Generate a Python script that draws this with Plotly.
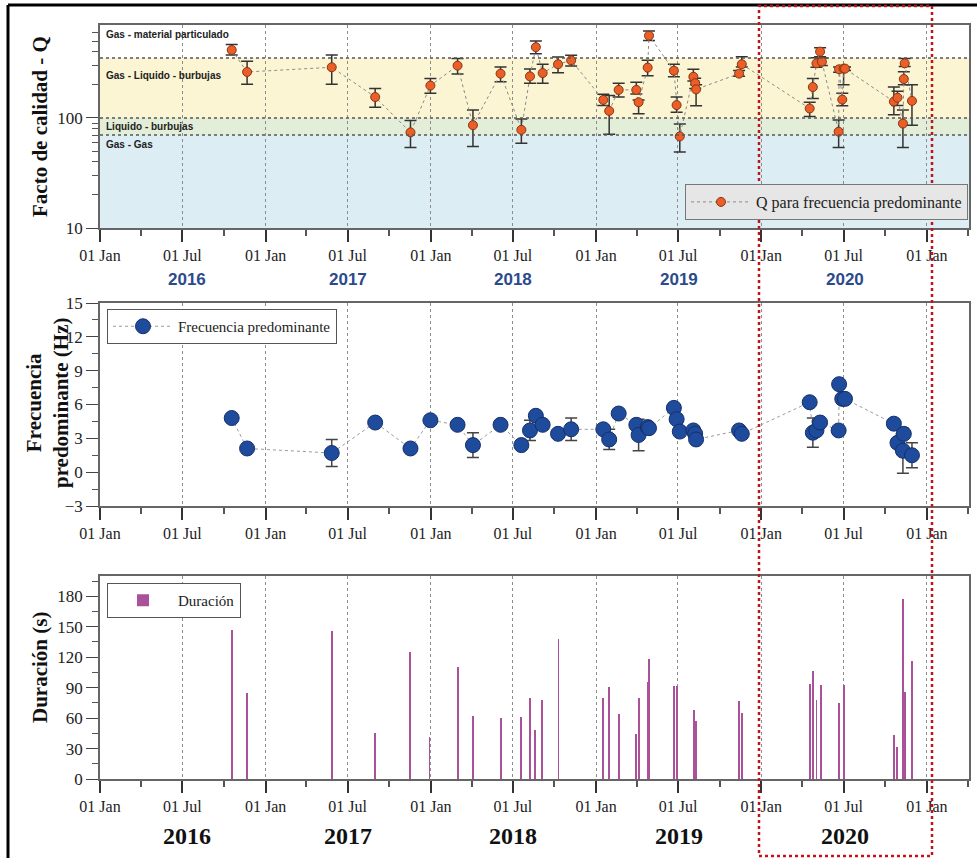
import numpy as np
import pandas as pd
import plotly.graph_objects as go

# ---------------- data ----------------
q_dates = ["2016-10-18", "2016-11-21", "2017-05-27", "2017-08-31", "2017-11-17", "2017-12-31",
           "2018-03-01", "2018-04-04", "2018-06-04", "2018-07-20", "2018-08-08", "2018-08-21",
           "2018-09-05", "2018-10-09", "2018-11-07", "2019-01-17", "2019-01-30", "2019-02-20",
           "2019-03-31", "2019-04-05", "2019-04-25", "2019-04-28", "2019-06-22", "2019-06-28",
           "2019-07-05", "2019-08-04", "2019-08-08", "2019-08-10", "2019-11-13", "2019-11-19",
           "2020-04-17", "2020-04-24", "2020-05-02", "2020-05-10", "2020-05-14", "2020-06-20",
           "2020-06-21", "2020-06-28", "2020-07-01", "2020-07-04", "2020-10-20", "2020-10-28",
           "2020-11-09", "2020-11-11", "2020-11-13", "2020-11-29"]
q_values = [415, 262, 289, 155, 74, 197, 299, 86, 253, 78, 239, 440, 256, 308, 334, 146, 116, 180,
            180, 139, 287, 560, 269, 131, 68, 237, 207, 182, 253, 308, 122, 191, 314, 401, 325, 75,
            277, 147, 281, 281, 141, 153, 89, 226, 314, 143]
q_upper = [466, 327, 374, 185, 95, 229, 348, 118, 291, 98, 279, 502, 308, 358, 372, 164, 160, 207,
           211, 146, 335, 617, 308, 155, 88, 277, 230, 200, 270, 361, 139, 229, 353, 435, 350, 96,
           290, 168, 290, 290, 191, 175, 118, 263, 348, 200]
q_lower = [373, 203, 203, 125, 54, 168, 251, 55, 214, 59, 207, 384, 207, 258, 297, 130, 71, 155,
           165, 109, 242, 505, 237, 113, 49, 217, 185, 129, 240, 290, 103, 150, 289, 360, 300, 54,
           260, 129, 200, 270, 107, 130, 54, 200, 293, 86]

f_dates = ["2016-10-18", "2016-11-21", "2017-05-27", "2017-08-31", "2017-11-17", "2017-12-31",
           "2018-03-01", "2018-04-04", "2018-06-04", "2018-07-20", "2018-08-08", "2018-08-21",
           "2018-09-05", "2018-10-09", "2018-11-07", "2019-01-17", "2019-01-30", "2019-02-20",
           "2019-03-31", "2019-04-05", "2019-04-25", "2019-04-28", "2019-06-22", "2019-06-28",
           "2019-07-05", "2019-08-04", "2019-08-08", "2019-08-10", "2019-11-13", "2019-11-19",
           "2020-04-17", "2020-04-24", "2020-05-02", "2020-05-10", "2020-06-20", "2020-06-21",
           "2020-06-28", "2020-07-04", "2020-10-20", "2020-10-28", "2020-11-09", "2020-11-11",
           "2020-11-29"]
f_values = [4.8, 2.1, 1.7, 4.4, 2.1, 4.6, 4.2, 2.4, 4.2, 2.4, 3.7, 5.0, 4.2, 3.4, 3.8, 3.8, 2.9, 5.2,
            4.2, 3.3, 4.0, 3.9, 5.7, 4.7, 3.6, 3.7, 3.4, 2.9, 3.7, 3.4, 6.2, 3.5, 3.7, 4.4, 3.7, 7.8,
            6.5, 6.5, 4.3, 2.6, 1.9, 3.4, 1.5]
f_err = [0.0, 0.0, 1.2, 0.0, 0.0, 0.0, 0.0, 1.1, 0.0, 0.0, 0.9, 0.0, 0.0, 0.0, 1.0, 0.0, 0.9, 0.0,
         0.0, 1.4, 0.0, 0.0, 0.0, 0.0, 0.0, 0.0, 0.0, 0.0, 0.0, 0.0, 0.0, 1.3, 0.0, 0.0, 0.0, 0.0,
         0.0, 0.0, 0.0, 0.0, 2.0, 0.0, 1.1]

d_dates = ["2016-10-18", "2016-11-20", "2017-05-27", "2017-08-30", "2017-11-15", "2017-12-29",
           "2018-03-01", "2018-04-04", "2018-06-04", "2018-07-20", "2018-08-08", "2018-08-20",
           "2018-09-04", "2018-10-10", "2019-01-17", "2019-01-29", "2019-02-20", "2019-03-31",
           "2019-04-05", "2019-04-25", "2019-04-28", "2019-06-23", "2019-06-29", "2019-08-05",
           "2019-08-09", "2019-11-13", "2019-11-19", "2020-04-17", "2020-04-24", "2020-05-02",
           "2020-05-12", "2020-06-20", "2020-07-01", "2020-10-20", "2020-10-27", "2020-11-09",
           "2020-11-10", "2020-11-13", "2020-11-29"]
d_values = [147, 85, 146, 45, 125, 41, 110, 62, 60, 61, 80, 48, 78, 138, 80, 91, 64, 44, 80, 96,
            118, 92, 92, 68, 57, 77, 65, 94, 106, 78, 93, 75, 93, 43, 32, 56, 177, 86, 116]

tick_dates = ["2016-01-01", "2016-07-01", "2017-01-01", "2017-07-01", "2018-01-01", "2018-07-01",
              "2019-01-01", "2019-07-01", "2020-01-01", "2020-07-01", "2021-01-01"]
tick_text = ["01 Jan", "01 Jul"] * 5 + ["01 Jan"]
year_labels = ["2016", "2017", "2018", "2019", "2020"]
year_pos = ["2016-07-12", "2017-07-01", "2018-07-01", "2019-07-04", "2020-07-04"]

bands = [(10, 70, "#dcedf3"), (70, 100, "#e2eed8"), (100, 350, "#fbf5d3")]
band_labels = [("Gas - material particulado", 570), ("Gas - Liquido - burbujas", 245),
               ("Liquido - burbujas", 84), ("Gas - Gas", 58)]

# ---------------- figure ----------------
W, H = 977, 858
def px(x):
    return x / W
def py(y):
    return 1 - y / H

xdom = [px(100), px(969)]
dom_top = [py(228), py(25)]
dom_mid = [py(506), py(303)]
dom_bot = [py(779), py(576)]

serif = "Liberation Serif"
sans = "Liberation Sans"

qd = pd.to_datetime(q_dates)
qv = np.array(q_values, float)
fig = go.Figure()

fig.add_trace(go.Scatter(
    x=qd, y=qv, mode="lines+markers", name="Q para frecuencia predominante",
    line=dict(color="#8a8a8a", width=1, dash="dot"),
    marker=dict(size=9, color="#ea5f28", line=dict(color="#8a3310", width=1)),
    error_y=dict(type="data", symmetric=False, array=np.array(q_upper) - qv,
                 arrayminus=qv - np.array(q_lower), color="#333333", thickness=1.5, width=6),
    xaxis="x", yaxis="y", legend="legend"))

fig.add_trace(go.Scatter(
    x=pd.to_datetime(f_dates), y=f_values, mode="lines+markers", name="Frecuencia predominante",
    line=dict(color="#9a9a9a", width=1, dash="dot"),
    marker=dict(size=15, color="#1f4b9c", line=dict(color="#14306a", width=1)),
    error_y=dict(type="data", array=f_err, color="#444444", thickness=1.5, width=6),
    xaxis="x2", yaxis="y2", legend="legend2"))

fig.add_trace(go.Bar(
    x=pd.to_datetime(d_dates), y=d_values, name="Duración",
    width=2.0 * 86400000, marker=dict(color="#a9529a", line=dict(width=0)),
    xaxis="x3", yaxis="y3", legend="legend3"))

xrange = ["2016-01-01", "2021-04-04"]
xcommon = dict(range=xrange, type="date", tickmode="array", tickvals=tick_dates, ticktext=tick_text,
               ticks="outside", ticklen=12, tickcolor="#333", tickwidth=1.5,
               tickfont=dict(family=serif, size=16, color="#222"),
               showgrid=True, gridcolor="#8c8c8c", griddash="dot", gridwidth=1,
               showline=True, linecolor="#666", linewidth=1.5, mirror=True,
               minor=dict(ticks="outside", ticklen=6, dtick="M3", tick0="2016-01-01",
                          tickcolor="#555", showgrid=False),
               zeroline=False, domain=xdom, automargin=False)

ycommon = dict(ticks="outside", ticklen=12, tickcolor="#444", tickwidth=1.2,
               tickfont=dict(family=serif, size=17, color="#222"),
               showgrid=False, zeroline=False, showline=True, linecolor="#666", linewidth=1.5,
               mirror=True, automargin=False)

fig.update_layout(
    width=W, height=H, margin=dict(l=0, r=0, t=0, b=0, autoexpand=False),
    paper_bgcolor="white", plot_bgcolor="white", showlegend=True, bargap=0,
    xaxis=dict(xcommon, anchor="y"),
    xaxis2=dict(xcommon, anchor="y2"),
    xaxis3=dict(xcommon, anchor="y3"),
    yaxis=dict(ycommon, type="log", range=[1, np.log10(700)], domain=dom_top, anchor="x",
               tickvals=[10, 100, 1000], ticktext=["10", "100", "1000"],
               minor=dict(ticks="outside", ticklen=6, tickcolor="#555",
                          tickvals=[20, 30, 40, 50, 60, 70, 80, 90, 200, 300, 400, 500, 600])),
    yaxis2=dict(ycommon, range=[-3, 15], dtick=3, tick0=0, domain=dom_mid, anchor="x2",
                minor=dict(ticks="outside", ticklen=6, dtick=1.5, tick0=0, tickcolor="#555")),
    yaxis3=dict(ycommon, range=[0, 200], dtick=30, tick0=0, domain=dom_bot, anchor="x3",
                minor=dict(ticks="outside", ticklen=6, dtick=15, tick0=0, tickcolor="#555")),
    legend=dict(x=px(968), y=py(220), xanchor="right", yanchor="bottom", bgcolor="#e6e6e6",
                bordercolor="#777", borderwidth=1, itemwidth=60,
                font=dict(family=serif, size=16, color="#222")),
    legend2=dict(x=px(107), y=py(309), xanchor="left", yanchor="top", bgcolor="white",
                 bordercolor="#555", borderwidth=1, itemwidth=60,
                 font=dict(family=serif, size=15, color="#222")),
    legend3=dict(x=px(107), y=py(583), xanchor="left", yanchor="top", bgcolor="white",
                 bordercolor="#555", borderwidth=1, itemwidth=60,
                 font=dict(family=serif, size=15, color="#222")),
)

shapes = []
for lo, hi, col in bands:
    shapes.append(dict(type="rect", xref="x domain", yref="y", x0=0, x1=1, y0=lo, y1=hi,
                       fillcolor=col, line=dict(width=0), layer="below"))
for v in [70, 100, 350]:
    shapes.append(dict(type="line", xref="x domain", yref="y", x0=0, x1=1, y0=v, y1=v,
                       line=dict(color="#555", width=1.5, dash="dot")))
# outer frame lines and highlight box
shapes.append(dict(type="line", xref="paper", yref="paper", x0=px(8), x1=1, y0=py(5), y1=py(5),
                   line=dict(color="black", width=3)))
shapes.append(dict(type="line", xref="paper", yref="paper", x0=px(8), x1=px(8), y0=0, y1=py(5),
                   line=dict(color="black", width=3)))
shapes.append(dict(type="rect", xref="paper", yref="paper", x0=px(759), x1=px(932), y0=py(856),
                   y1=py(6), line=dict(color="#c0141c", width=2.5, dash="dot")))
fig.update_layout(shapes=shapes)

ann = []
for txt, v in band_labels:
    ann.append(dict(text="<b>" + txt + "</b>", xref="x domain", yref="y", x=0.005, y=np.log10(v),
                    xanchor="left", yanchor="middle", showarrow=False,
                    font=dict(family=sans, size=10, color="#222")))
for yl, yp in zip(year_labels, year_pos):
    ann.append(dict(text="<b>" + yl + "</b>", xref="x", yref="paper", x=yp, y=py(279),
                    xanchor="center", yanchor="middle",
                    showarrow=False, font=dict(family=sans, size=17, color="#2b4a8c")))
    ann.append(dict(text="<b>" + yl + "</b>", xref="x3", yref="paper", x=yp, y=py(836),
                    xanchor="center", yanchor="middle",
                    showarrow=False, font=dict(family=serif, size=24, color="#111")))
ann.append(dict(text="<b>Facto de calidad - Q</b>", xref="paper", yref="paper", x=px(40),
                y=py(127), textangle=-90, xanchor="center", yanchor="middle", showarrow=False,
                font=dict(family=serif, size=21, color="#111")))
ann.append(dict(text="<b>Frecuencia<br>predominante (Hz)</b>", xref="paper", yref="paper", x=px(47),
                y=py(403), textangle=-90, xanchor="center", yanchor="middle", showarrow=False,
                font=dict(family=serif, size=21, color="#111")))
ann.append(dict(text="<b>Duración (s)</b>", xref="paper", yref="paper", x=px(40),
                y=py(668), textangle=-90, xanchor="center", yanchor="middle", showarrow=False,
                font=dict(family=serif, size=21, color="#111")))
fig.update_layout(annotations=ann)

fig.write_html("out.html")
